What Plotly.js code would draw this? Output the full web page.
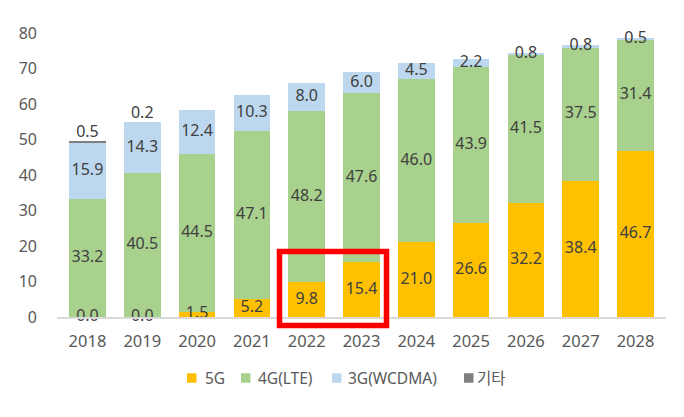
<!DOCTYPE html>
<html>
<head>
<meta charset="utf-8">
<script src="https://cdn.plot.ly/plotly-3.0.1.min.js"></script>
<style>html,body{margin:0;padding:0;background:#fff;}#chart{width:684px;height:417px;}</style>
</head>
<body>
<div id="chart"></div>
<script>
var years = ['2018','2019','2020','2021','2022','2023','2024','2025','2026','2027','2028'];
var g5   = [0.0, 0.0, 1.5, 5.2, 9.8, 15.4, 21.0, 26.6, 32.2, 38.4, 46.7];
var g4   = [33.2, 40.5, 44.5, 47.1, 48.2, 47.6, 46.0, 43.9, 41.5, 37.5, 31.4];
var g3   = [15.9, 14.3, 12.4, 10.3, 8.0, 6.0, 4.5, 2.2, 0.8, 0.8, 0.5];
var etc  = [0.5, 0.2, null, null, null, null, null, null, null, null, null];
var seriesNames = ['5G', '4G(LTE)', '3G(WCDMA)', '기타'];
var colors = ['#FFC000', '#A9D18E', '#BDD7EE', '#7F7F7F'];

var FONT = 'Noto Sans, Noto Sans CJK KR, sans-serif';
var TXT = '#404040';
var AX = '#595959';

// plot geometry (pixels)
var W = 684, H = 417, ML = 57, MR = 18, MT = 33, MB = 100;
var PW = W - ML - MR, PH = H - MT - MB;
function px(x){ return (x - ML) / PW; }
function py(y){ return (H - MB - y) / PH; }

var series = [g5, g4, g3, etc];
var traces = [];
var base = years.map(function(){return 0;});
var mids = [];
series.forEach(function(vals, si){
  traces.push({
    type: 'bar', x: years, y: vals.map(function(v){return v === null ? 0 : v;}),
    name: seriesNames[si], marker: {color: colors[si]},
    hoverinfo: 'x+y+name', showlegend: false
  });
  var m = [], tops = [];
  vals.forEach(function(v, i){
    var val = v === null ? 0 : v;
    m.push(base[i] + val / 2);
    base[i] += val;
    tops.push(base[i]);
  });
  mids.push({mid: m, top: tops});
});

for (var si = 0; si < 3; si++) {
  traces.push({
    type: 'scatter', mode: 'text', x: years, y: mids[si].mid,
    text: series[si].map(function(v){return v.toFixed(1);}),
    textposition: 'middle center',
    textfont: {family: FONT, size: 16, color: TXT},
    showlegend: false, hoverinfo: 'skip', cliponaxis: false
  });
}
traces.push({
  type: 'scatter', mode: 'text', x: years,
  y: mids[3].top.map(function(t, i){return etc[i] === null ? null : t;}),
  text: etc.map(function(v){return v === null ? '' : v.toFixed(1);}),
  textposition: 'top center',
  textfont: {family: FONT, size: 16, color: TXT},
  showlegend: false, hoverinfo: 'skip', cliponaxis: false
});

// legend drawn as squares + text (positions in pixels)
var legSquareX = [187, 241, 332, 464];
var legTextX = [203, 256, 346, 475];
var legY = 378, sq = 9.5;
var shapes = [{
  type: 'rect', xref: 'paper', yref: 'paper',
  x0: px(279.5), x1: px(386.5), y0: py(325.5), y1: py(251.5),
  line: {color: '#FF0000', width: 5.5}, fillcolor: 'rgba(0,0,0,0)'
}];
var annotations = [];
seriesNames.forEach(function(n, i){
  shapes.push({
    type: 'rect', xref: 'paper', yref: 'paper',
    x0: px(legSquareX[i]), x1: px(legSquareX[i] + sq),
    y0: py(legY + sq / 2), y1: py(legY - sq / 2),
    line: {width: 0}, fillcolor: colors[i]
  });
  annotations.push({
    xref: 'paper', yref: 'paper', x: px(legTextX[i]), y: py(legY),
    xanchor: 'left', yanchor: 'middle', showarrow: false,
    text: n, font: {family: FONT, size: 15.5, color: AX}
  });
});

var layout = {
  width: W, height: H,
  margin: {l: ML, r: MR, t: MT, b: MB},
  paper_bgcolor: '#fff', plot_bgcolor: '#fff',
  barmode: 'stack', bargap: 0.33,
  font: {family: FONT, size: 16, color: AX},
  xaxis: {
    type: 'category', showline: true, linecolor: '#D9D9D9', linewidth: 2,
    ticks: '', showgrid: false, zeroline: false, ticklabelstandoff: 8,
    tickfont: {family: FONT, size: 16.5, color: AX}
  },
  yaxis: {
    range: [0, 80], dtick: 10, showgrid: false, zeroline: false, showline: false,
    ticks: '', ticklabelstandoff: 19,
    tickfont: {family: FONT, size: 16, color: AX}
  },
  showlegend: false,
  shapes: shapes,
  annotations: annotations
};

Plotly.newPlot('chart', traces, layout, {displayModeBar: false, staticPlot: true});
</script>
</body>
</html>
